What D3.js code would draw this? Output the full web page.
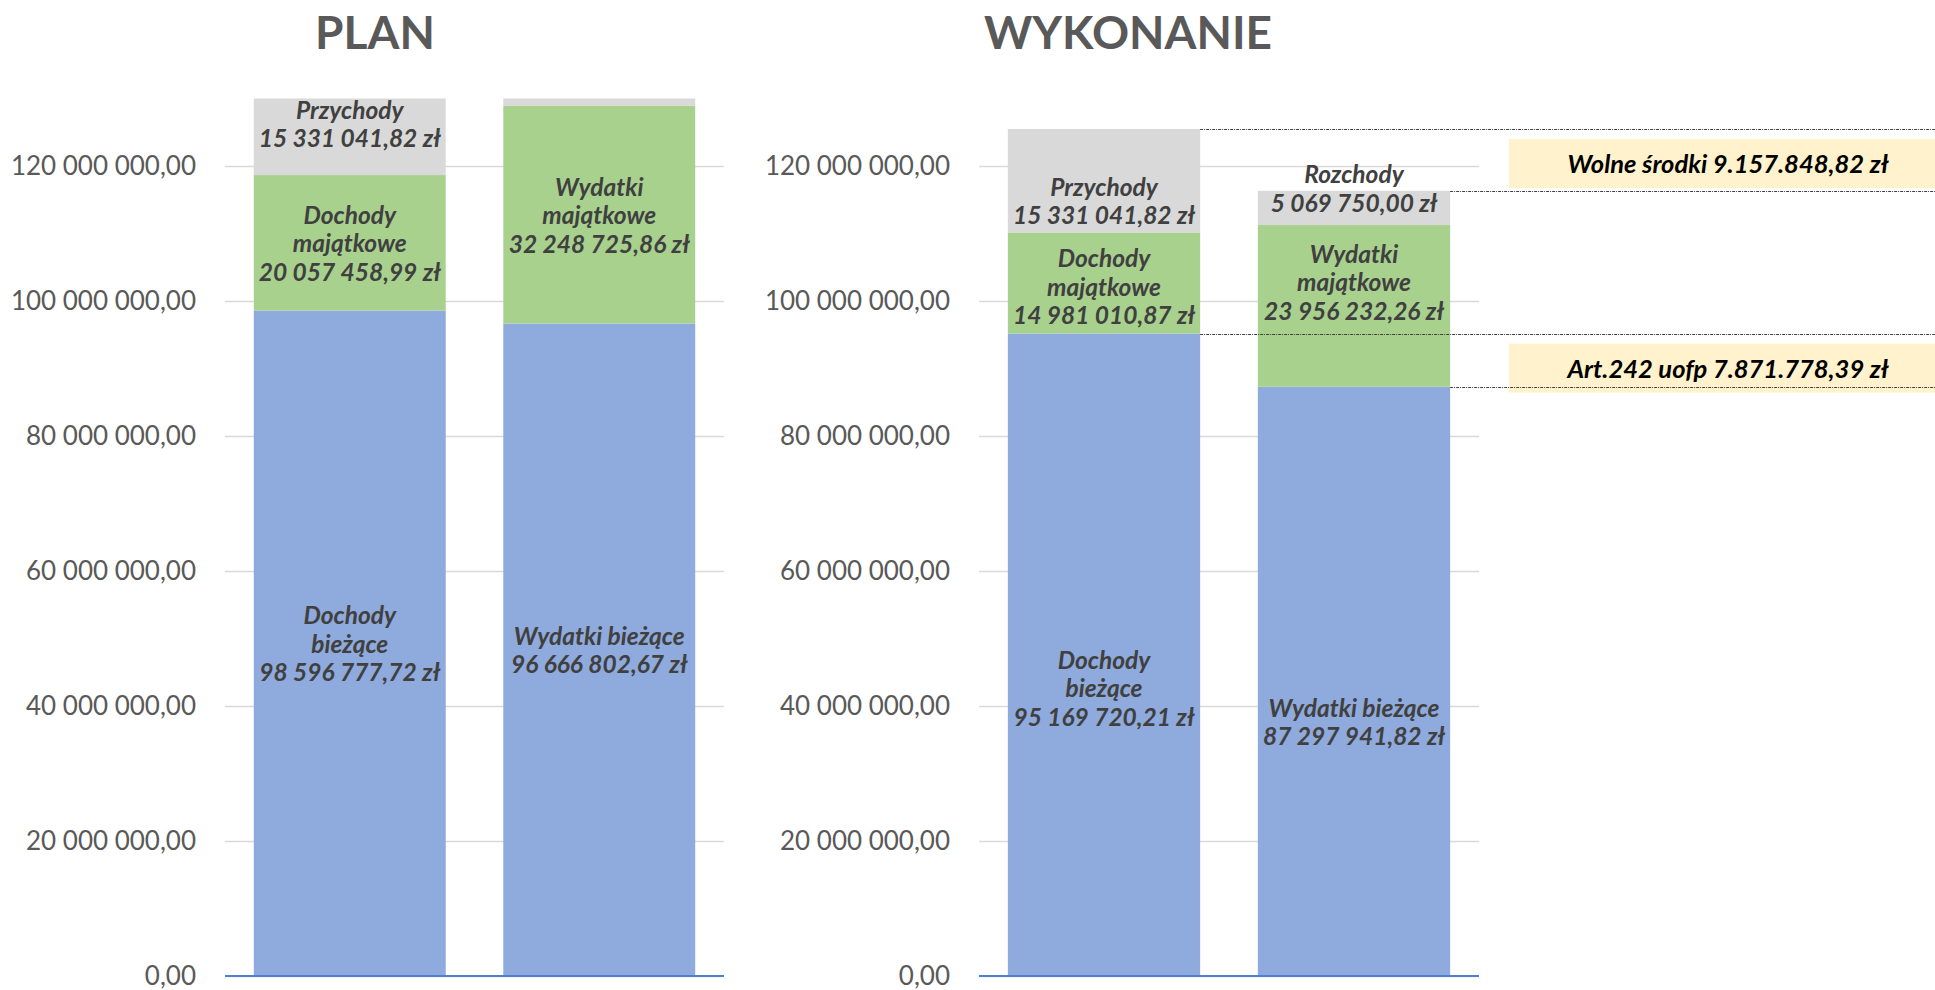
<!DOCTYPE html>
<html>
<head>
<meta charset="utf-8">
<script src="https://cdn.jsdelivr.net/npm/d3@7"></script>
<style>
  body { margin: 0; background: #fff; }
  svg { display: block; font-family: Lato, "Open Sans", sans-serif; }
</style>
</head>
<body>
<div id="chart"></div>
<script>
// values (zł)
var panels = ["PLAN", "WYKONANIE"];
var barCategories = ["Dochody", "Wydatki"];

var planDochody = [98596777.72, 20057458.99, 15331041.82];
var planWydatki = [96666802.67, 32248725.86, 5069750.00];
var wykDochody = [95169720.21, 14981010.87, 15331041.82];
var wykWydatki = [87297941.82, 23956232.26, 5069750.00];

var dochodyNames = ["Dochody\nbieżące", "Dochody\nmajątkowe", "Przychody"];
var planWydatkiNames = ["Wydatki bieżące", "Wydatki\nmajątkowe", "Rozchody"];
var wykWydatkiNames = ["Wydatki bieżące", "Wydatki\nmajątkowe", "Rozchody"];

var yTicks = [0, 20000000, 40000000, 60000000, 80000000, 100000000, 120000000];
var yMax = 130000000;

var segColors = ["#8FAADC", "#A9D18E", "#D9D9D9"];

// vertical nudges of the labels, as placed by hand in the original
var labelShift = [
  [[0, 0, 0], [0, 0, 0]],
  [[33, 3, 20], [40, -24, -20]]
];

var svgWidth = 1935;
var svgHeight = 990;

var plZl = d3.formatLocale({decimal: ",", thousands: " ", grouping: [3], currency: ["", ""]});
var plDot = d3.formatLocale({decimal: ",", thousands: ".", grouping: [3], currency: ["", ""]});
var fmtAxis = plZl.format(",.2f");
var fmtLabel = function(v) { return plZl.format(",.2f")(v) + " zł"; };
var fmtNote = function(v) { return plDot.format(",.2f")(v) + " zł"; };

var svg = d3.select("#chart").append("svg")
  .attr("width", svgWidth)
  .attr("height", svgHeight);

var plotTop = 98.5, plotBottom = 976;
var layouts = [
  {x0: 225, x1: 724, titleX: 375},
  {x0: 979, x1: 1479, titleX: 1128}
];

var panelData = [
  {bars: [planDochody, planWydatki], names: [dochodyNames, planWydatkiNames]},
  {bars: [wykDochody, wykWydatki], names: [dochodyNames, wykWydatkiNames]}
];

var y = d3.scaleLinear().domain([0, yMax]).range([plotBottom, plotTop]);
var stack = d3.stack().keys([0, 1, 2]);

panels.forEach(function(title, p) {
  var lay = layouts[p];
  var pd = panelData[p];

  var x = d3.scaleBand()
    .domain(barCategories)
    .range([lay.x0, lay.x1])
    .paddingInner(0.3 / 1.3)
    .paddingOuter(0.15 / 1.3);

  var g = svg.append("g");

  // title
  g.append("text")
    .attr("x", lay.titleX)
    .attr("y", 49)
    .attr("text-anchor", "middle")
    .attr("font-size", 46)
    .attr("font-weight", 700)
    .attr("fill", "#595959")
    .text(title);

  // axis + gridlines
  var axis = g.append("g")
    .attr("transform", "translate(" + lay.x0 + ",0)")
    .call(d3.axisLeft(y).tickValues(yTicks).tickSize(-(lay.x1 - lay.x0)).tickPadding(29).tickFormat(fmtAxis));
  axis.select(".domain").remove();
  axis.selectAll(".tick line").attr("stroke", "#D9D9D9").attr("stroke-width", 1.5);
  axis.selectAll(".tick text")
    .attr("fill", "#595959")
    .attr("font-size", 26)
    .attr("font-family", "Lato, sans-serif");

  // bars
  var clipId = "clip" + p;
  svg.append("clipPath").attr("id", clipId)
    .append("rect")
    .attr("x", lay.x0).attr("y", plotTop)
    .attr("width", lay.x1 - lay.x0).attr("height", plotBottom - plotTop);

  var series = stack(pd.bars);
  var barsG = g.append("g").attr("clip-path", "url(#" + clipId + ")");
  series.forEach(function(s, k) {
    barsG.selectAll(null)
      .data(s)
      .enter()
      .append("rect")
      .attr("x", function(d, i) { return x(barCategories[i]); })
      .attr("y", function(d) { return y(d[1]); })
      .attr("width", x.bandwidth())
      .attr("height", function(d) { return y(d[0]) - y(d[1]); })
      .attr("fill", segColors[k]);
  });

  // baseline
  g.append("line")
    .attr("x1", lay.x0).attr("x2", lay.x1)
    .attr("y1", y(0)).attr("y2", y(0))
    .attr("stroke", "#4F7FD0").attr("stroke-width", 2);

  // segment labels
  var lineH = 28.5;
  series.forEach(function(s, k) {
    s.forEach(function(d, i) {
      var mid = (y(d[0]) + y(d[1])) / 2;
      if (mid < plotTop) return; // hidden, outside plot
      var cy = mid + labelShift[p][i][k];
      var lines = pd.names[i][k].split("\n").concat([fmtLabel(pd.bars[i][k])]);
      var t = g.append("text")
        .attr("text-anchor", "middle")
        .attr("font-size", 24.5)
        .attr("font-weight", 700)
        .attr("font-style", "italic")
        .attr("fill", "#404040");
      lines.forEach(function(line, j) {
        t.append("tspan")
          .attr("x", x.bandwidth() / 2 + x(barCategories[i]))
          .attr("y", cy + (j - (lines.length - 1) / 2) * lineH)
          .attr("dominant-baseline", "central")
          .text(line);
      });
    });
  });

  // annotations on the execution panel
  if (p === 1) {
    var totD = d3.sum(wykDochody), totW = d3.sum(wykWydatki);
    var wolne = totD - totW;
    var art242 = wykDochody[0] - wykWydatki[0];
    var x1r = x(barCategories[0]) + x.bandwidth();
    var x2r = x(barCategories[1]) + x.bandwidth();
    var guides = [
      {from: x1r, v: totD},
      {from: x2r, v: totW},
      {from: x1r, v: wykDochody[0]},
      {from: x2r, v: wykWydatki[0]}
    ];
    var notes = [
      {top: y(totD), text: "Wolne środki " + fmtNote(wolne)},
      {top: y(wykDochody[0]), text: "Art.242 uofp " + fmtNote(art242)}
    ];
    notes.forEach(function(n) {
      g.append("rect")
        .attr("x", 1509).attr("y", n.top + 10)
        .attr("width", svgWidth - 1509).attr("height", 49)
        .attr("fill", "#FFF2CC");
      g.append("text")
        .attr("x", 1728).attr("y", n.top + 10 + 24.5)
        .attr("dominant-baseline", "central")
        .attr("text-anchor", "middle")
        .attr("font-size", 25.5)
        .attr("font-weight", 700)
        .attr("font-style", "italic")
        .attr("fill", "#000")
        .text(n.text);
    });
    guides.forEach(function(gd) {
      g.append("line")
        .attr("x1", gd.from).attr("x2", svgWidth)
        .attr("y1", Math.round(y(gd.v)) + 0.5).attr("y2", Math.round(y(gd.v)) + 0.5)
        .attr("stroke", "#404040")
        .attr("stroke-width", 1)
        .attr("stroke-dasharray", "3,1,1,1");
    });
  }
});
</script>
</body>
</html>
